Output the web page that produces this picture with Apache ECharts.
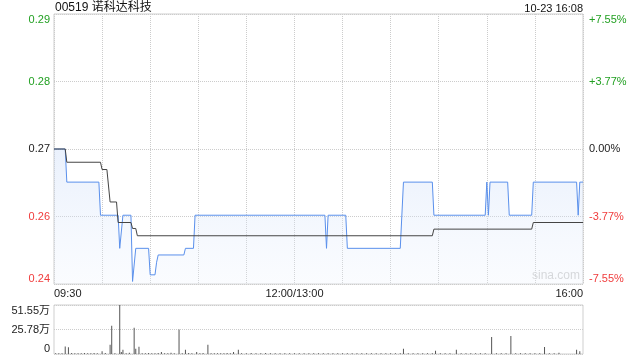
<!DOCTYPE html>
<html>
<head>
<meta charset="utf-8">
<script src="https://cdn.jsdelivr.net/npm/echarts@6/dist/echarts.min.js"></script>
<style>
html,body{margin:0;padding:0;background:#fff;}
#c{width:640px;height:360px;}
</style>
</head>
<body>
<div id="c"></div>
<script>
// ---- data ----
const titleText = '00519 诺科达科技';
const timeText = '10-23 16:08';
const prevClose = 0.27;
// price line: [minute index from 09:30 (0..330), price]
const priceMinutes = [0,7,8,28,29,40,41,42,43,48,49,50,51,59,60,63,64,65,81,82,87,88,169,170,171,182,183,216,218,236,237,269,270,271,272,283,284,298,299,326,327,328,330];
const priceValues  = [0.27,0.27,0.265,0.265,0.26,0.26,0.255,0.255,0.26,0.26,0.25,0.25,0.255,0.255,0.251,0.251,0.2529,0.254,0.254,0.255,0.255,0.26,0.26,0.255,0.26,0.26,0.255,0.255,0.265,0.265,0.26,0.26,0.265,0.26,0.265,0.265,0.26,0.26,0.265,0.265,0.26,0.265,0.265];
// average price line
const avgMinutes = [0,7,8,29,30,33,35,39,40,48,49,51,52,236,237,298,299,330];
const avgValues  = [0.27,0.27,0.268,0.268,0.2669,0.2669,0.262,0.262,0.2589,0.2589,0.258,0.258,0.2569,0.2569,0.2579,0.2579,0.2589,0.2589];
// volume (万)
const volMinutes = [7,9,30,35,36,41,42,43,50,51,53,67,78,82,89,96,112,115,218,238,251,273,285,306,326,328,
  1,3,5,11,13,15,17,19,21,23,25,27,32,38,45,47,55,57,59,61,63,65,69,71,73,75,80,84,86,91,93,98,100,102,104,106,108,110,117,120,123,126,129,132,135,138,141,144,147,150,
  153,156,159,162,165,168,171,174,177,180,183,186,189,192,195,198,201,204,207,210,213,216,221,224,227,230,233,236,241,244,247,254,257,260,263,266,269,276,279,282,288,291,294,297,300,303,309,312,315,318,321,324,329];
const volValues  = [8.0,7.0,2.8,9.8,29.6,51.55,2.0,4.5,27.5,5.6,7.7,2.0,25.8,4.5,2.0,9.8,2.0,4.5,5.6,3.5,4.5,18.0,19.0,7.3,4.5,2.8,
  0.8,0.9,0.7,1.0,0.8,0.9,0.7,1.0,0.8,0.9,1.1,0.8,1.0,0.9,0.8,1.2,0.9,0.8,1.0,0.7,0.9,1.0,0.8,0.9,1.2,0.8,0.9,1.0,0.8,0.9,1.0,0.8,0.9,0.7,0.9,0.8,1.0,0.8,0.9,0.8,1.0,0.9,0.8,1.1,0.8,0.9,0.7,0.8,0.9,0.8,
  0.7,0.8,0.9,0.7,0.8,0.7,0.8,0.9,0.7,0.8,0.7,0.8,0.9,0.7,0.8,0.7,0.8,0.9,0.7,0.8,0.7,0.8,0.9,0.7,0.8,0.7,0.9,0.8,0.7,0.8,0.9,0.7,0.8,0.7,0.9,0.8,0.7,0.8,0.9,0.7,0.8,0.7,0.9,0.8,0.7,0.8,0.9,0.7,1.2];
// tick labels
const leftLabels  = ['0.24','0.26','0.27','0.28','0.29'];
const rightLabels = ['-7.55%','-3.77%','0.00%','+3.77%','+7.55%'];
const labelColors = ['#f03c3c','#f03c3c','#222','#22a022','#22a022'];
const timeLabels  = {0:'09:30',150:'12:00/13:00',330:'16:00'};
const volLabels   = ['0','25.78万','51.55万'];

// ---- build ----
const STEP = 3.775; // percent per tick
const pct = p => (p / prevClose - 1) * 100;
const priceData = priceMinutes.map((m, i) => [m, pct(priceValues[i])]);
const avgData = avgMinutes.map((m, i) => [m, pct(avgValues[i])]);
const volData = volMinutes.map((m, i) => [m, volValues[i]]);
const tickIdx = v => Math.round(v / STEP) + 2;

const FONT = '"Liberation Sans", Arial, "Noto Sans CJK SC", sans-serif';
const chart = echarts.init(document.getElementById('c'), null, {renderer: 'canvas'});
const gridL = 54, gridW = 529;
chart.setOption({
  animation: false,
  backgroundColor: '#fff',
  textStyle: {fontFamily: FONT},
  grid: [
    {left: gridL, top: 14, width: gridW, height: 270, show: true, borderColor: '#cfcfcf', borderWidth: 1, backgroundColor: 'transparent'},
    {left: gridL, top: 305, width: gridW, height: 49, show: true, borderColor: '#cfcfcf', borderWidth: 1, backgroundColor: 'transparent'}
  ],
  xAxis: [
    {type: 'value', gridIndex: 0, min: 0, max: 330, interval: 30,
     axisLine: {show: false}, axisTick: {show: false},
     splitLine: {show: true, lineStyle: {color: '#cccccc', type: 'dotted', width: 1}},
     axisLabel: {show: true, margin: 4, fontSize: 11, color: '#222', fontFamily: FONT,
       formatter: v => timeLabels[v] || '', alignMinLabel: 'left', alignMaxLabel: 'right'}},
    {type: 'value', gridIndex: 1, min: 0, max: 330, interval: 30,
     axisLine: {show: false}, axisTick: {show: false}, splitLine: {show: false}, axisLabel: {show: false}}
  ],
  yAxis: [
    {type: 'value', gridIndex: 0, min: -2 * STEP, max: 2 * STEP, interval: STEP, position: 'left',
     axisLine: {show: false}, axisTick: {show: false},
     splitLine: {show: true, lineStyle: {color: '#cccccc', type: 'dotted', width: 1}},
     axisLabel: {margin: 4, fontSize: 11, fontFamily: FONT,
       formatter: v => leftLabels[tickIdx(v)],
       color: v => labelColors[tickIdx(v)],
       verticalAlignMinLabel: 'bottom', verticalAlignMaxLabel: 'top'}},
    {type: 'value', gridIndex: 0, min: -2 * STEP, max: 2 * STEP, interval: STEP, position: 'right',
     axisLine: {show: false}, axisTick: {show: false}, splitLine: {show: false},
     axisLabel: {margin: 6, fontSize: 11, fontFamily: FONT,
       formatter: v => rightLabels[tickIdx(v)],
       color: v => labelColors[tickIdx(v)],
       verticalAlignMinLabel: 'bottom', verticalAlignMaxLabel: 'top'}},
    {type: 'value', gridIndex: 1, min: 0, max: 51.55, interval: 25.775,
     axisLine: {show: false}, axisTick: {show: false},
     splitLine: {show: true, lineStyle: {color: '#cccccc', type: 'dotted', width: 1}},
     axisLabel: {margin: 4, fontSize: 11, color: '#222', fontFamily: FONT,
       formatter: v => volLabels[Math.round(v / 25.775)],
       verticalAlignMinLabel: 'bottom', verticalAlignMaxLabel: 'top'}}
  ],
  series: [
    {type: 'line', xAxisIndex: 0, yAxisIndex: 0, data: priceData, symbol: 'none', silent: true,
     lineStyle: {color: '#5a90ec', width: 1},
     areaStyle: {origin: 'start', color: new echarts.graphic.LinearGradient(0, 0, 0, 1, [
       {offset: 0, color: 'rgba(200,218,248,0.55)'}, {offset: 1, color: 'rgba(235,242,253,0.35)'}])},
     z: 3},
    {type: 'line', xAxisIndex: 0, yAxisIndex: 0, data: avgData, symbol: 'none', silent: true,
     lineStyle: {color: '#444', width: 1}, z: 4},
    {type: 'bar', xAxisIndex: 1, yAxisIndex: 2, data: volData, barWidth: 1, silent: true,
     itemStyle: {color: '#555'}}
  ],
  graphic: [
    {type: 'text', left: 55, top: 2, style: {text: titleText, font: '12px ' + FONT, fill: '#111'}},
    {type: 'text', right: 57, top: 3, style: {text: timeText, font: '11px ' + FONT, fill: '#111'}},
    {type: 'text', right: 60, top: 270, style: {text: 'sina.com', font: '12px ' + FONT, fill: '#d0d0d0'}}
  ]
});
</script>
</body>
</html>
